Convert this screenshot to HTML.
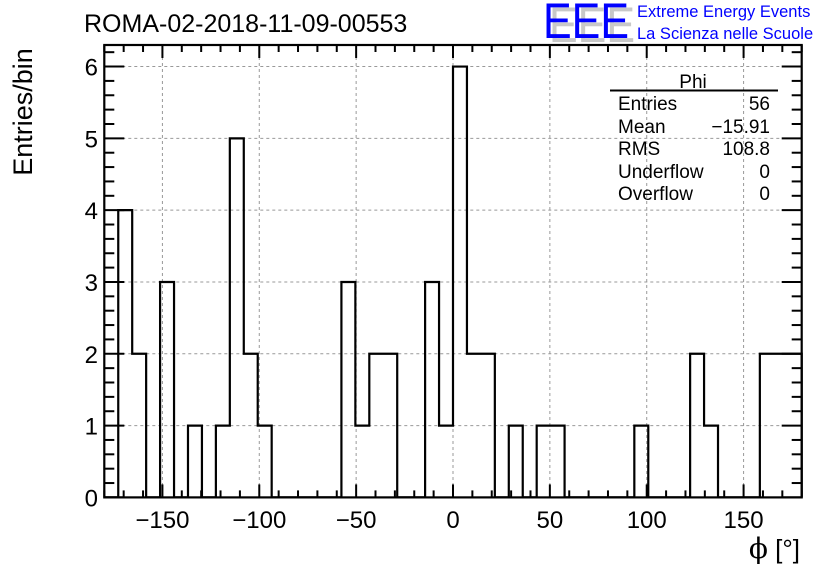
<!DOCTYPE html>
<html><head><meta charset="utf-8"><style>
html,body{margin:0;padding:0;background:#fff;}
svg{display:block;font-family:"Liberation Sans",sans-serif;}
</style></head><body>
<svg id="chart" width="836" height="572" viewBox="0 0 836 572">
<g id="grid"></g>
<g id="bars"></g>
<g id="axes"></g>
<text x="84" y="32" font-size="25">ROMA-02-2018-11-09-00553</text>
<text transform="translate(32,112) rotate(-90)" text-anchor="middle" font-size="27">Entries/bin</text>
<text x="800" y="558" text-anchor="end" font-size="26"><tspan font-family="'DejaVu Serif',serif" font-size="28">ϕ</tspan> [°]</text>
<g>
<text x="549" y="42" font-size="50" fill="#c8c8c8" textLength="86" lengthAdjust="spacingAndGlyphs">EEE</text>
<text x="543" y="38" font-size="50" fill="#0000ff" textLength="86" lengthAdjust="spacingAndGlyphs">EEE</text>
<text x="637" y="17" font-size="16.5" fill="#0000ff">Extreme Energy Events</text>
<text x="637" y="39" font-size="16.5" fill="#0000ff">La Scienza nelle Scuole</text>
</g>
<g font-size="19">
<text x="693" y="88" text-anchor="middle">Phi</text>
<line x1="610" y1="90.5" x2="778" y2="90.5" stroke="#000" stroke-width="2"/>
<text x="618" y="110">Entries</text><text x="770" y="110" text-anchor="end">56</text>
<text x="618" y="133">Mean</text><text x="770" y="133" text-anchor="end">−15.91</text>
<text x="618" y="155">RMS</text><text x="770" y="155" text-anchor="end">108.8</text>
<text x="618" y="178">Underflow</text><text x="770" y="178" text-anchor="end">0</text>
<text x="618" y="200">Overflow</text><text x="770" y="200" text-anchor="end">0</text>
</g>
</svg>
<script>
const binCounts = [0,4,2,0,3,0,1,0,1,5,2,1,0,0,0,0,0,3,1,2,2,0,0,3,1,6,2,2,0,1,0,1,1,0,0,0,0,0,1,0,0,0,2,1,0,0,0,2,2,2];
const xRange = [-180, 180];
const yRange = [0, 6.3];
const xTickLabels = [-150, -100, -50, 0, 50, 100, 150];
const yTickLabels = [0, 1, 2, 3, 4, 5, 6];

const L=104.3, R=801.7, T=45, B=497.4;
const NS='http://www.w3.org/2000/svg';
function X(v){return L+(v-xRange[0])/(xRange[1]-xRange[0])*(R-L);}
function Y(v){return B-(v-yRange[0])/(yRange[1]-yRange[0])*(B-T);}
function mk(tag,attrs,parent){const e=document.createElementNS(NS,tag);for(const k in attrs)e.setAttribute(k,attrs[k]);parent.appendChild(e);return e;}
const grid=document.getElementById('grid'), bars=document.getElementById('bars'), axes=document.getElementById('axes');

xTickLabels.forEach(v=>{const l=mk('line',{x1:X(v),x2:X(v),y1:T,y2:B,stroke:'#999','stroke-dasharray':'3,3','stroke-width':1},grid);

});
yTickLabels.forEach(v=>{if(v===0)return;const l=mk('line',{x1:L,x2:R,y1:Y(v),y2:Y(v),stroke:'#999','stroke-dasharray':'3,3','stroke-width':1},grid);

});

const n=binCounts.length, w=(xRange[1]-xRange[0])/n;
let d='M'+X(xRange[0])+','+Y(0);
binCounts.forEach((c,i)=>{const x0=X(xRange[0]+i*w),x1=X(xRange[0]+(i+1)*w);d+=' L'+x0+','+Y(c)+' L'+x1+','+Y(c);});
d+=' L'+X(xRange[1])+','+Y(0);
const p=mk('path',{d:d,fill:'none',stroke:'#000','stroke-width':2.2},bars);



const f=mk('rect',{x:L,y:T,width:R-L,height:B-T,fill:'none',stroke:'#000','stroke-width':2.2},axes);



for(let v=-180;v<=180;v+=10){const major=(v%50===0);const len=major?13:7;
 const t1=mk('line',{x1:X(v),x2:X(v),y1:B,y2:B-len,stroke:'#000','stroke-width':2},axes);
 
 
 const t2=mk('line',{x1:X(v),x2:X(v),y1:T,y2:T+len,stroke:'#000','stroke-width':2},axes);
 
 }
xTickLabels.forEach(v=>{const t=mk('text',{x:X(v),y:528,'text-anchor':'middle','font-size':24},axes);t.textContent=(v<0?'−'+(-v):v);
 
 });
for(let i=0;i<=31;i++){const v=i*0.2;if(v>yRange[1])break;const major=(i%5===0);const len=major?20:10;
 const t1=mk('line',{x1:L,x2:L+len,y1:Y(v),y2:Y(v),stroke:'#000','stroke-width':2},axes);
 
 
 const t2=mk('line',{x1:R,x2:R-len,y1:Y(v),y2:Y(v),stroke:'#000','stroke-width':2},axes);
 
 }
yTickLabels.forEach(v=>{const t=mk('text',{x:98,y:Y(v)+9,'text-anchor':'end','font-size':24},axes);t.textContent=v;
 
 });
</script>
</body></html>
